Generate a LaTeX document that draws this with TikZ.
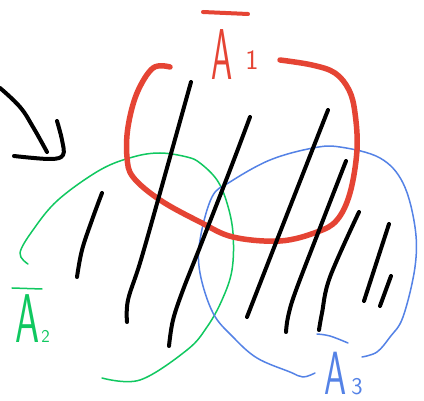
\documentclass[tikz,border=0pt]{standalone}
\usepackage{graphicx}
\definecolor{pred}{RGB}{229,68,52}
\definecolor{pgreen}{RGB}{16,200,96}
\definecolor{pblue}{RGB}{84,130,230}
\tikzset{
  ink/.style={line cap=round,line join=round},
  blk/.style={ink,draw=black,line width=4pt},
  redpen/.style={ink,draw=pred,line width=5.5pt},
  greenpen/.style={ink,draw=pgreen,line width=1.5pt},
  bluepen/.style={ink,draw=pblue,line width=1.5pt},
  lbl/.style={inner sep=0pt,anchor=base west,font=\sffamily},
}
\begin{document}
\begin{tikzpicture}[x=1pt,y=-1pt]
\useasboundingbox (0,0) rectangle (424,401);
\fill[white] (0,0) rectangle (424,401);

% arrow
\draw[blk] plot[smooth,tension=0.7] coordinates {(0,88) (20,107) (33,127) (47,152)};
\draw[blk] plot[smooth,tension=0.6] coordinates {(14,156) (50,159) (63,155) (62,140) (57,121)};

% green set A2
\draw[greenpen] plot[smooth,tension=0.6] coordinates {(28,264) (20,253) (33,230) (58,200) (100,170) (133,157) (160,153) (187,157) (200,163) (217,180) (227,203) (233,233) (232,270) (222,300) (207,327) (187,350) (140,380) (102,378)};

% blue set A3
\draw[bluepen] plot[smooth,tension=0.6] coordinates {(315,373) (303,377) (290,372) (257,358) (233,337) (213,313) (200,273) (200,240) (212,197) (230,182) (270,160) (313,148) (340,147) (380,158) (403,183) (415,227) (415,267) (403,317) (390,337) (377,352) (362,357)};

% red set A1
\draw[redpen] plot[smooth,tension=0.6] coordinates {(170,67) (153,68) (137,93) (128,127) (127,157) (133,177) (160,200) (200,222) (233,237) (280,241) (317,232) (337,220) (350,193) (357,150) (355,113) (349,90) (335,73) (312,65) (280,60)};

% hatching
\draw[blk] plot[smooth,tension=0.6] coordinates {(102,193) (92,220) (82,250) (77,277)};
\draw[blk] plot[smooth,tension=0.6] coordinates {(191,82) (158,200) (140,263) (128,300) (127,322)};
\draw[blk] plot[smooth,tension=0.6] coordinates {(250,117) (230,170) (200,247) (183,290) (173,320) (169,346)};
\draw[blk] plot[smooth,tension=0.6] coordinates {(328,110) (277,240) (247,317)};
\draw[blk] plot[smooth,tension=0.6] coordinates {(346,161) (318,233) (295,293) (288,317) (286,332)};
\draw[blk] plot[smooth,tension=0.6] coordinates {(359,212) (330,277) (322,313) (319,330)};
\draw[blk] (389,224) -- (364,301);
\draw[blk] (391,276) -- (380,306);

% labels
\node[lbl,text=pred] (a1) at (211,80) {\fontsize{72}{72}\selectfont\scalebox{0.47}[1]{A}\hspace{13pt}\raisebox{10pt}{\fontsize{28}{28}\selectfont 1}};
\draw[ink,draw=pred,line width=4pt] (203,12) -- (248,14);

\node[lbl,text=pgreen] (a2) at (15,343) {\fontsize{69}{69}\selectfont\scalebox{0.56}[1]{A}\hspace{2pt}\fontsize{18}{18}\selectfont 2};
\draw[greenpen] (12,288) -- (42,289);

\node[lbl,text=pblue] (a3) at (324,395) {\fontsize{61}{61}\selectfont\scalebox{0.58}[1]{A}\hspace{5pt}\fontsize{24}{24}\selectfont 3};
\draw[bluepen] plot[smooth,tension=0.6] coordinates {(317,334) (330,336) (348,343)};
\end{tikzpicture}
\end{document}
